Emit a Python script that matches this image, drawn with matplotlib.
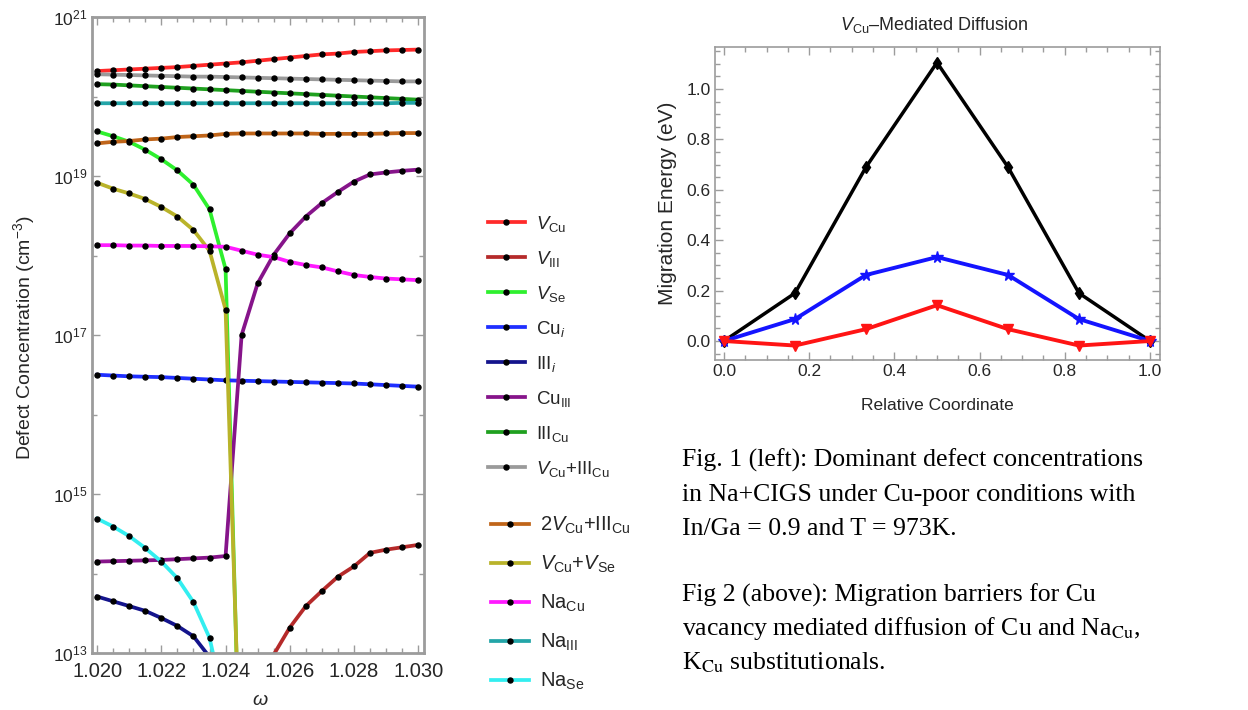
import matplotlib
matplotlib.use("Agg")
import matplotlib.pyplot as plt
from matplotlib.ticker import FixedLocator, MultipleLocator, FormatStrFormatter, NullFormatter
import numpy as np

plt.rcParams['font.family'] = ['Liberation Sans', 'DejaVu Sans']
plt.rcParams['mathtext.fontset'] = 'custom'
plt.rcParams['mathtext.rm'] = 'Liberation Sans'
plt.rcParams['mathtext.it'] = 'Liberation Sans:italic'
plt.rcParams['mathtext.bf'] = 'Liberation Sans:bold'

# ---------------- defect concentrations (log10 of cm^-3) vs omega ----------------
omega = [1.0200, 1.0205, 1.0210, 1.0215, 1.0220, 1.0225, 1.0230, 1.0235, 1.0240, 1.0245,
         1.0250, 1.0255, 1.0260, 1.0265, 1.0270, 1.0275, 1.0280, 1.0285, 1.0290, 1.0295, 1.0300]

log_v_cu = [20.32, 20.33, 20.34, 20.35, 20.36, 20.37, 20.385, 20.40, 20.415, 20.43,
            20.45, 20.47, 20.49, 20.51, 20.53, 20.54, 20.56, 20.57, 20.58, 20.585, 20.59]
log_v_iii = [12.0, 12.98, 13.32, 13.59, 13.78, 13.96, 14.09, 14.26, 14.30, 14.33, 14.36]      # omega[10:]
log_v_se = [19.56, 19.50, 19.43, 19.33, 19.21, 19.07, 18.89, 18.58, 17.83, 10.7]                # omega[:10]
log_cu_i = [16.50, 16.49, 16.48, 16.475, 16.47, 16.46, 16.45, 16.44, 16.43, 16.425,
            16.42, 16.415, 16.41, 16.405, 16.40, 16.395, 16.39, 16.38, 16.37, 16.36, 16.35]
log_iii_i = [13.71, 13.65, 13.59, 13.53, 13.44, 13.34, 13.21, 12.95]                            # omega[:8]
log_cu_iii = [14.15, 14.155, 14.16, 14.165, 14.17, 14.18, 14.19, 14.20, 14.22, 17.00,
              17.65, 18.01, 18.28, 18.49, 18.66, 18.80, 18.93, 19.02, 19.045, 19.065, 19.08]
log_iii_cu = [20.155, 20.15, 20.14, 20.13, 20.12, 20.11, 20.10, 20.09, 20.08, 20.07,
              20.06, 20.05, 20.04, 20.03, 20.02, 20.01, 20.00, 19.99, 19.98, 19.97, 19.96]
log_vcu_iiicu = [20.28, 20.275, 20.27, 20.265, 20.26, 20.255, 20.25, 20.25, 20.245, 20.24,
                 20.235, 20.23, 20.225, 20.22, 20.215, 20.21, 20.205, 20.20, 20.195, 20.19, 20.19]
log_2vcu_iiicu = [19.41, 19.43, 19.44, 19.46, 19.47, 19.49, 19.50, 19.51, 19.53, 19.535,
                  19.535, 19.535, 19.535, 19.535, 19.53, 19.53, 19.53, 19.53, 19.535, 19.54, 19.54]
log_vcu_vse = [18.915, 18.84, 18.78, 18.71, 18.61, 18.49, 18.32, 18.06, 17.32, 11.0]          # omega[:10]
log_na_cu = [18.13, 18.13, 18.125, 18.125, 18.12, 18.12, 18.12, 18.115, 18.11, 18.06,
             18.01, 17.98, 17.92, 17.88, 17.85, 17.80, 17.755, 17.73, 17.71, 17.70, 17.69]
log_na_iii = [19.915, 19.915, 19.915, 19.915, 19.915, 19.915, 19.915, 19.915, 19.915, 19.915,
              19.915, 19.915, 19.915, 19.915, 19.915, 19.915, 19.915, 19.915, 19.915, 19.92, 19.92]
log_na_se = [14.69, 14.59, 14.47, 14.32, 14.15, 13.94, 13.64, 13.19, 12.3]                     # omega[:9]

defect_labels = [r'$V_{\mathrm{Cu}}$', r'$V_{\mathrm{III}}$', r'$V_{\mathrm{Se}}$',
                 r'$\mathrm{Cu}_{i}$', r'$\mathrm{III}_{i}$', r'$\mathrm{Cu}_{\mathrm{III}}$',
                 r'$\mathrm{III}_{\mathrm{Cu}}$', r'$V_{\mathrm{Cu}}\mathrm{+III}_{\mathrm{Cu}}$',
                 r'$\mathrm{2}V_{\mathrm{Cu}}\mathrm{+III}_{\mathrm{Cu}}$',
                 r'$V_{\mathrm{Cu}}\mathrm{+}V_{\mathrm{Se}}$',
                 r'$\mathrm{Na}_{\mathrm{Cu}}$', r'$\mathrm{Na}_{\mathrm{III}}$', r'$\mathrm{Na}_{\mathrm{Se}}$']
defect_colors = ['#ff2a2a', '#b52a2a', '#2ef02e', '#1f2fff', '#14148c', '#86148a',
                 '#1fa01f', '#9a9a9a', '#c0651a', '#b9b32a', '#ff1aff', '#23a5a8', '#33eef0']

defect_series = [
    (omega, log_v_cu), (omega[10:], log_v_iii), (omega[:10], log_v_se), (omega, log_cu_i),
    (omega[:8], log_iii_i), (omega, log_cu_iii), (omega, log_iii_cu), (omega, log_vcu_iiicu),
    (omega, log_2vcu_iiicu), (omega[:10], log_vcu_vse), (omega, log_na_cu), (omega, log_na_iii),
    (omega[:9], log_na_se),
]

# ---------------- migration barriers ----------------
rel_coord = [0.0, 0.1667, 0.3333, 0.5, 0.6667, 0.8333, 1.0]
energy_black = [0.0, 0.19, 0.69, 1.105, 0.69, 0.19, 0.0]
energy_blue = [0.0, 0.087, 0.262, 0.333, 0.262, 0.087, 0.0]
energy_red = [0.0, -0.018, 0.047, 0.142, 0.047, -0.018, 0.0]

W, H = 1248, 710
fig = plt.figure(figsize=(W / 100, H / 100), dpi=100)

frame_col = '#9c9c9c'
text_col = '#262626'

# ---------------- left panel ----------------
ax1 = fig.add_axes([92 / W, 1 - 653 / H, 332 / W, 636 / H])
lines = []
for (xs, ys), lab, col in zip(defect_series, defect_labels, defect_colors):
    ln, = ax1.plot(xs, 10.0 ** np.asarray(ys), color=col, lw=2.7, marker='o', ms=3.6,
                   mfc='black', mec='black', label=lab)
    lines.append(ln)

ax1.set_yscale('log')
ax1.set_xlim(1.01984, 1.03018)
ax1.set_ylim(1e13, 1e21)
ax1.yaxis.set_major_locator(FixedLocator([1e13, 1e15, 1e17, 1e19, 1e21]))
ax1.yaxis.set_minor_locator(FixedLocator([1e14, 1e16, 1e18, 1e20]))
ax1.yaxis.set_minor_formatter(NullFormatter())
ax1.set_yticklabels([r'$10^{13}$', r'$10^{15}$', r'$10^{17}$', r'$10^{19}$', r'$10^{21}$'])
ax1.xaxis.set_major_locator(MultipleLocator(0.002))
ax1.xaxis.set_minor_locator(MultipleLocator(0.0005))
ax1.xaxis.set_major_formatter(FormatStrFormatter('%.3f'))
ax1.tick_params(which='both', direction='in', top=True, right=True, color=frame_col, width=1.0)
ax1.tick_params(which='major', length=6)
ax1.tick_params(which='minor', length=3.5)
ax1.tick_params(axis='x', labelsize=14.5, pad=6.5, labelcolor=text_col)
ax1.tick_params(axis='y', labelsize=12.5, pad=3, labelcolor=text_col)
for sp in ax1.spines.values():
    sp.set_color(frame_col)
    sp.set_linewidth(2.0)
ax1.set_ylabel(r'Defect Concentration (cm$^{-3}$)', fontsize=14, color=text_col)
ax1.yaxis.set_label_coords(-0.205, 0.495)
ax1.yaxis.label.set_va('center')
ax1.set_xlabel('ω', fontsize=14, fontstyle='italic', color=text_col)
ax1.xaxis.set_label_coords(0.506, -0.074)
ax1.xaxis.label.set_va('center')

# ---------------- legends ----------------
leg1 = fig.legend(handles=lines[:8], loc='upper left', bbox_to_anchor=(488 / W, 1 - 214 / H),
                  frameon=False, fontsize=13.5, numpoints=1, handlelength=1.95,
                  handletextpad=0.6, labelspacing=0.8, borderpad=0, borderaxespad=0)
leg2 = fig.legend(handles=lines[8:], loc='upper left', bbox_to_anchor=(491 / W, 1 - 515 / H),
                  frameon=False, fontsize=14.5, numpoints=1, handlelength=1.9,
                  handletextpad=0.55, labelspacing=0.88, borderpad=0, borderaxespad=0)
for lg in (leg1, leg2):
    for t in lg.get_texts():
        t.set_color(text_col)

# ---------------- right panel ----------------
ax2 = fig.add_axes([715 / W, 1 - 360 / H, 445 / W, 313 / H])
ax2.plot(rel_coord, energy_black, color='black', lw=2.5, marker='d', ms=6.5)
ax2.plot(rel_coord, energy_blue, color='#1414ff', lw=2.8, marker='*', ms=8.5)
ax2.plot(rel_coord, energy_red, color='#ff1414', lw=2.8, marker='v', ms=6.5)
ax2.set_xlim(-0.0211, 1.0235)
ax2.set_ylim(-0.0754, 1.1667)
ax2.xaxis.set_major_locator(MultipleLocator(0.2))
ax2.xaxis.set_minor_locator(MultipleLocator(0.05))
ax2.yaxis.set_major_locator(MultipleLocator(0.2))
ax2.yaxis.set_minor_locator(MultipleLocator(0.05))
ax2.xaxis.set_major_formatter(FormatStrFormatter('%.1f'))
ax2.yaxis.set_major_formatter(FormatStrFormatter('%.1f'))
ax2.tick_params(which='both', direction='in', top=True, right=True, color=frame_col, width=1.0)
ax2.tick_params(which='major', length=6)
ax2.tick_params(which='minor', length=3.5)
ax2.tick_params(axis='both', labelsize=12.5, labelcolor=text_col)
ax2.tick_params(axis='x', pad=3)
ax2.tick_params(axis='y', pad=3)
for sp in ax2.spines.values():
    sp.set_color(frame_col)
    sp.set_linewidth(1.2)
ax2.set_ylabel('Migration Energy (eV)', fontsize=15, color=text_col)
ax2.yaxis.set_label_coords(-0.106, 0.5)
ax2.yaxis.label.set_va('center')
ax2.set_xlabel('Relative Coordinate', fontsize=12.5, color=text_col)
ax2.xaxis.set_label_coords(0.5, -0.144)
ax2.xaxis.label.set_va('center')
fig.text(934 / W, 1 - 25 / H, r'$V_{\mathrm{Cu}}$–Mediated Diffusion', fontsize=13,
         color=text_col, ha='center', va='center')

# ---------------- caption ----------------
caption = [
    (467, 'Fig. 1 (left): Dominant defect concentrations'),
    (501.5, 'in Na+CIGS under Cu-poor conditions with'),
    (535, 'In/Ga = 0.9 and T = 973K.'),
    (601.5, 'Fig 2 (above): Migration barriers for Cu'),
    (635, r'vacancy mediated diffusion of Cu and Na$_{\mathrm{Cu}}$,'),
    (669, r'K$_{\mathrm{Cu}}$ substitutionals.'),
]
for yb, txt in caption:
    fig.text(681.5 / W, 1 - yb / H, txt, family='Liberation Serif', math_fontfamily='stix',
             fontsize=18.5, color='black', ha='left', va='baseline')

fig.savefig('out.png', dpi=100)
